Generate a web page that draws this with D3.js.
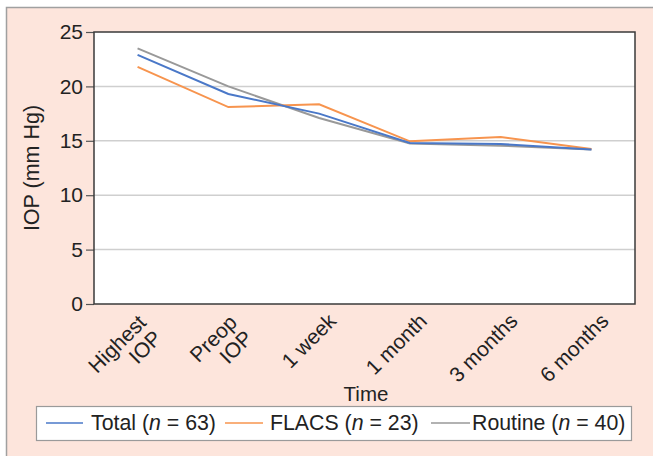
<!DOCTYPE html>
<html><head><meta charset="utf-8">
<script src="https://cdn.jsdelivr.net/npm/d3@7"></script>
<style>body{margin:0;background:#fff;} svg{display:block;font-family:"Liberation Sans",Arial,sans-serif;}</style>
</head><body>
<svg id="c" width="653" height="456"></svg>
<script>
const categories = [["Highest","IOP"],["Preop","IOP"],["1 week"],["1 month"],["3 months"],["6 months"]];
const totalValues = [22.9, 19.3, 17.5, 14.8, 14.7, 14.2];
const flacsValues = [21.8, 18.1, 18.35, 14.95, 15.35, 14.25];
const routineValues = [23.5, 20.0, 17.1, 14.75, 14.55, 14.2];
const yTicks = [0, 5, 10, 15, 20, 25];
const seriesNames = ["Total", "FLACS", "Routine"];
const seriesN = [63, 23, 40];
const seriesColors = ["#4a78c8", "#f7944e", "#999999"];

const svg = d3.select("#c");
svg.append("rect").attr("x",6.5).attr("y",7.5).attr("width",660).attr("height",460)
  .attr("fill","#fde5dc").attr("stroke","#a0a0a0").attr("stroke-width",1.5);

const L=94, R=635, T=32, B=304;
const keys = categories.map(d=>d.join(" "));
const x = d3.scalePoint().domain(keys).range([L,R]).padding(0.48);
const y = d3.scaleLinear().domain([0,25]).range([B,T]);

svg.append("rect").attr("x",L).attr("y",T).attr("width",R-L).attr("height",B-T).attr("fill","#fff");
// grid
svg.append("g").selectAll("line").data(yTicks.filter(v=>v>0&&v<25)).join("line")
  .attr("x1",L).attr("x2",R).attr("y1",d=>y(d)).attr("y2",d=>y(d))
  .attr("stroke","#cfcfcf").attr("stroke-width",1.5);

// y axis
const ya = svg.append("g").attr("transform",`translate(${L},0)`)
  .call(d3.axisLeft(y).tickValues(yTicks).tickSize(8).tickPadding(3));
ya.select(".domain").remove();
ya.selectAll("line").attr("stroke","#555").attr("stroke-width",1.2);
ya.selectAll("text").attr("font-size",21).attr("fill","#222").attr("font-family","Liberation Sans, Arial, sans-serif");

// frame
svg.append("rect").attr("x",L).attr("y",T).attr("width",R-L).attr("height",B-T)
  .attr("fill","none").attr("stroke","#3a3a3a").attr("stroke-width",1.5);

// x labels
const xl = svg.append("g").selectAll("g").data(categories).join("g")
  .attr("transform",d=>`translate(${x(d.join(" "))},${B}) rotate(-45)`);
xl.each(function(d){
  const g = d3.select(this);
  const multi = d.length>1;
  d.forEach((t,i)=>{
    g.append("text").attr("text-anchor","end")
      .attr("x", multi ? -7 : 0)
      .attr("y", multi ? 21 + i*22 : 26)
      .attr("font-size",21).attr("fill","#222").text(t);
  });
});

// lines
const allSeries = [totalValues, flacsValues, routineValues];
const line = d3.line().x((d,i)=>x(keys[i])).y(d=>y(d));
[2,1,0].forEach(k=>{
  svg.append("path").datum(allSeries[k]).attr("d",line)
    .attr("fill","none").attr("stroke",seriesColors[k]).attr("stroke-width",2);
});

// axis titles
svg.append("text").attr("x",366).attr("y",401).attr("text-anchor","middle")
  .attr("font-size",20.5).attr("fill","#222").text("Time");
svg.append("text").attr("transform","translate(39,168) rotate(-90)").attr("text-anchor","middle")
  .attr("font-size",21.5).attr("fill","#222").text("IOP (mm Hg)");

// legend
svg.append("rect").attr("x",36.5).attr("y",406.5).attr("width",595).attr("height",34)
  .attr("fill","#fff").attr("stroke","#9a9a9a").attr("stroke-width",1.2);
const legX = [[46,83,91],[225,263,270],[431,470,472]];
seriesNames.forEach((nm,k)=>{
  svg.append("line").attr("x1",legX[k][0]).attr("x2",legX[k][1]).attr("y1",423).attr("y2",423)
    .attr("stroke",seriesColors[k]).attr("stroke-width",1.5);
  const t = svg.append("text").attr("x",legX[k][2]).attr("y",430).attr("font-size",21.3).attr("fill","#222");
  t.append("tspan").text(nm+" (");
  t.append("tspan").attr("font-style","italic").text("n");
  t.append("tspan").text(" = "+seriesN[k]+")");
});
</script>
</body></html>
